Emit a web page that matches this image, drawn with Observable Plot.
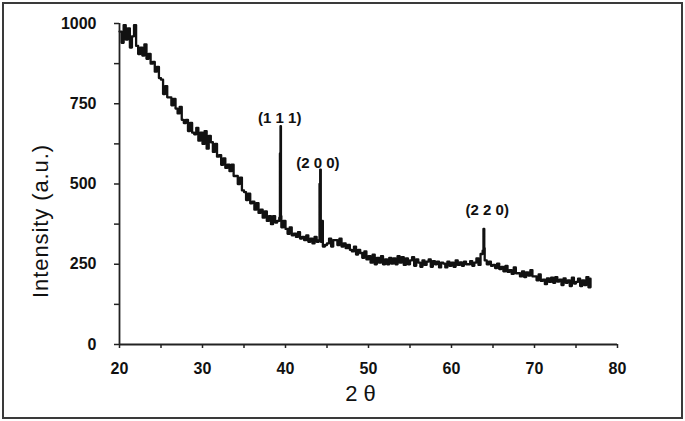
<!DOCTYPE html>
<html>
<head>
<meta charset="utf-8">
<script src="https://cdn.jsdelivr.net/npm/d3@7"></script>
<script src="https://cdn.jsdelivr.net/npm/@observablehq/plot@0.6"></script>
<style>
  html, body { margin: 0; padding: 0; background: #fff; }
  #chart svg { display: block; outline: 2px solid #3a3a3a; outline-offset: -4px; }
</style>
</head>
<body>
<div id="chart"></div>
<script>
// Scan: 2θ from 20° in 0.25° steps
const scanStart = 20;
const scanStep = 0.25;
const intensity = [
  975, 940, 995, 950,
  985, 925, 960, 995,
  930, 905, 925, 900,
  935, 890, 905, 875,
  880, 850, 865, 830,
  825, 780, 805, 770,
  770, 745, 765, 735,
  720, 740, 700, 690,
  700, 665, 690, 660,
  655, 675, 635, 660,
  625, 665, 610, 650,
  630, 600, 625, 585,
  590, 560, 580, 550,
  560, 540, 560, 525,
  525, 500, 520, 480,
  475, 450, 470, 440,
  445, 420, 440, 410,
  420, 395, 415, 385,
  400, 375, 400, 380,
  385, 395, 365, 385,
  360, 345, 365, 340,
  345, 335, 350, 330,
  335, 325, 340, 320,
  330, 315, 335, 320,
  325, 320, 305, 310,
  315, 330, 305, 325,
  325, 310, 330, 305,
  315, 300, 310, 295,
  290, 305, 280, 295,
  285, 270, 290, 265,
  275, 255, 280, 250,
  270, 255, 275, 250,
  265, 250, 270, 252,
  268, 250, 275, 255,
  272, 248, 268, 250,
  262, 272, 245, 265,
  255, 242, 262, 248,
  258, 265, 242, 260,
  250, 258, 240, 255,
  252, 240, 258, 245,
  255, 242, 262, 248,
  256, 245, 258, 250,
  250, 260, 245, 255,
  268, 248, 282, 292,
  262, 250, 258, 245,
  248, 238, 252, 235,
  242, 228, 245, 226,
  232, 220, 240, 222,
  222, 212, 228, 210,
  225, 215, 232, 212,
  212, 200, 218, 198,
  202, 188, 206, 195,
  208, 192, 210, 196,
  202, 185, 206, 192,
  200, 182, 208, 190,
  195, 205, 182, 200,
  185, 210, 178, 205
];

// Sharp diffraction peaks (fine sampling)
const peakTheta     = [39.33, 39.40, 39.45, 44.10, 44.18, 44.45, 63.85, 63.95];
const peakIntensity = [595,   680,   400,   500,   545,   385,   360,   300];

// Peak labels (Miller indices)
const peakLabels = ["(1 1 1)", "(2 0 0)", "(2 2 0)"];
const peakLabelTheta = [39.3, 43.9, 64.3];
const peakLabelIntensity = [704, 564, 417];

// Axis ticks
const xTicks = [20, 25, 30, 35, 40, 45, 50, 55, 60, 65, 70, 75, 80];
const xTickLabels = [20, 30, 40, 50, 60, 70, 80];
const yTicks = [0, 125, 250, 375, 500, 625, 750, 875, 1000];
const yTickLabels = [0, 250, 500, 750, 1000];

const series = intensity.map((v, i) => ({x: scanStart + i * scanStep, y: v}))
  .concat(peakTheta.map((t, i) => ({x: t, y: peakIntensity[i]})))
  .sort((a, b) => a.x - b.x);

const labels = peakLabels.map((t, i) => ({text: t, x: peakLabelTheta[i], y: peakLabelIntensity[i]}));

const font = "'Liberation Sans', Arial, sans-serif";

const chart = Plot.plot({
  width: 685,
  height: 421,
  marginLeft: 119,
  marginRight: 68,
  marginTop: 23,
  marginBottom: 77,
  style: {fontFamily: font, background: "#fff", color: "#111"},
  x: {domain: [20, 80]},
  y: {domain: [0, 1000]},
  marks: [
    Plot.line(series, {x: "x", y: "y", curve: "step-after", stroke: "#111", strokeWidth: 2.3}),
    Plot.ruleX([20], {stroke: "#222", strokeWidth: 1.8}),
    Plot.ruleY([0], {stroke: "#222", strokeWidth: 1.8}),
    Plot.axisX({
      ticks: xTicks,
      tickFormat: d => xTickLabels.includes(d) ? String(d) : "",
      tickSize: 4, tickPadding: 14,
      fontSize: 16, fontWeight: "bold", stroke: "#222", strokeWidth: 1.5,
      label: null
    }),
    Plot.axisY({
      ticks: yTicks,
      tickFormat: d => yTickLabels.includes(d) ? String(d) : "",
      tickSize: 5, tickPadding: 18,
      fontSize: 16, fontWeight: "bold", stroke: "#222", strokeWidth: 1.5,
      label: null
    }),
    Plot.text(labels, {x: "x", y: "y", text: "text", fontSize: 15, fontWeight: "bold", fill: "#111"}),
    Plot.text(["Intensity (a.u.)"], {
      frameAnchor: "left", textAnchor: "middle", dx: -79, dy: 37, rotate: -90,
      fontSize: 22, fill: "#111", className: "ylab"
    }),
    Plot.text(["2 θ"], {
      frameAnchor: "bottom", dx: -8, dy: 56,
      fontSize: 22, fill: "#111"
    })
  ]
});

d3.select(chart).selectAll(".ylab text").style("letter-spacing", "0.9px");
document.getElementById("chart").appendChild(chart);
</script>
</body>
</html>
